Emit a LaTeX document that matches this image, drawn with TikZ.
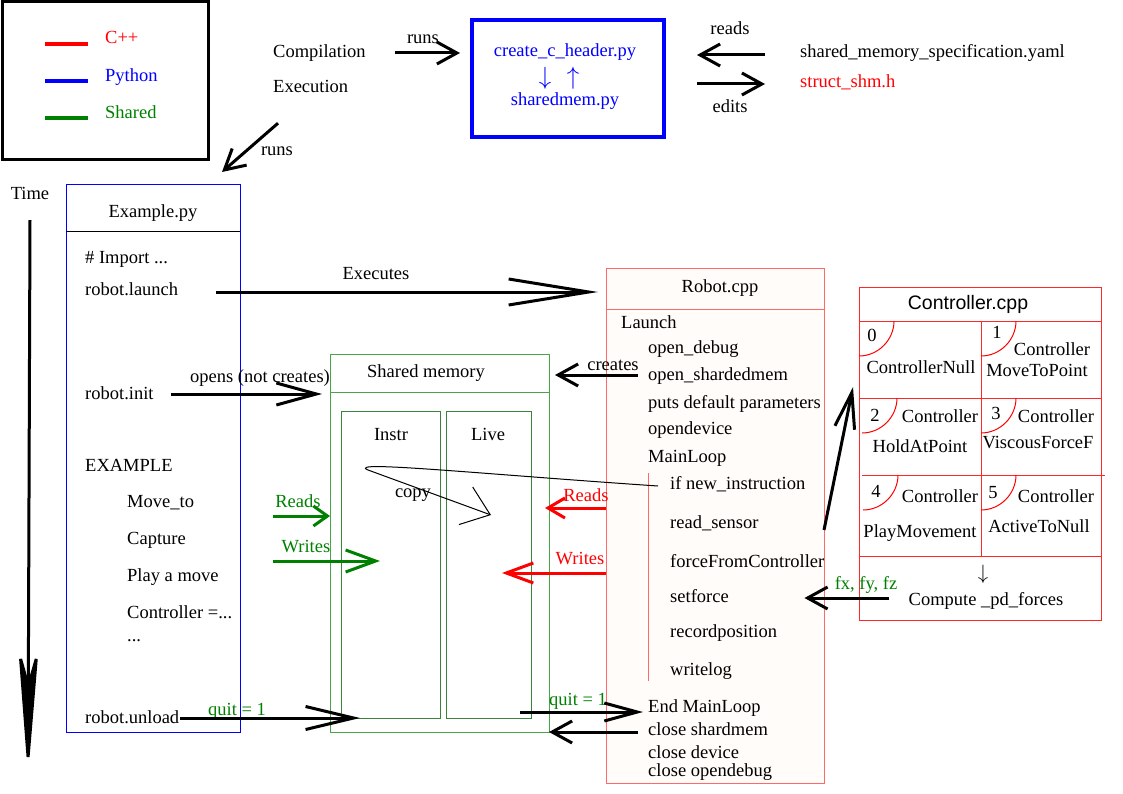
\documentclass[tikz,border=0pt]{standalone}
\usepackage{fontspec}
\setmainfont{Liberation Serif}
\newfontfamily\HeadFont{Liberation Sans}
\usepackage{xcolor}
\definecolor{ColCpp}{RGB}{255,0,0}
\definecolor{ColPy}{RGB}{0,0,255}
\definecolor{ColSh}{RGB}{0,128,0}
\definecolor{ColRobot}{RGB}{255,105,105}
\definecolor{ColCtl}{RGB}{255,40,40}
\definecolor{ColMem}{RGB}{70,165,70}
\definecolor{ColPaper}{RGB}{255,252,250}
\usepackage{tikz}
\usetikzlibrary{arrows.meta}
\tikzstyle{Txt}=[inner sep=0pt,text height=13pt,text depth=3pt,font=\fontsize{18.5}{22}\selectfont]
\tikzstyle{Item}=[Txt,anchor=west]
\tikzstyle{Sym}=[inner sep=0pt,font=\fontsize{25}{27}\selectfont]
\tikzstyle{Frame}=[draw,line width=1pt,inner sep=0pt,outer sep=0pt,anchor=north west]
\tikzstyle{Key}=[line width=3.5pt]
\tikzstyle{Arrow}=[line width=3pt,-{Straight Barb[length=20pt,width=22pt]}]
\tikzstyle{Thin}=[line width=1pt]
\newcommand{\CellArc}[2]{\draw[ColCpp,Thin] (#1,#2+35) .. controls (#1+19,#2+35) and (#1+35,#2+19) .. (#1+35,#2);}

\begin{document}
\begin{tikzpicture}[x=1pt,y=-1pt]
        \useasboundingbox (0,0) rectangle (1123,794);
        % legend
        \draw[line width=3pt] (2,2) rectangle (208,160);
        \draw[Key,ColCpp] (45,44) -- (88,44);
        \draw[Key,ColPy] (45,81) -- (88,81);
        \draw[Key,ColSh] (45,118) -- (88,118);
        \node[Item,ColCpp](kc)at(105,39){C++};
        \node[Item,ColPy](kp)at(105,77){Python};
        \node[Item,ColSh](ks)at(105,114){Shared};
        % header generation
        \node[Item](comp)at(273,53){Compilation};
        \node[Item](exec)at(273,88){Execution};
        \node[Frame,draw=ColPy,line width=4pt,minimum width=192pt,minimum height=117pt](gen)at(472,20){};
        \node[Txt,ColPy](hdr)at(565,52){create\_c\_header.py};
        \node[Sym,ColPy](dn)at(545,78){$\downarrow$};
        \node[Sym,ColPy](up)at(573,78){$\uparrow$};
        \node[Txt,ColPy](shm)at(565,101){sharedmem.py};
        \node[Item](spec)at(800,53){shared\_memory\_specification.yaml};
        \node[Item,ColCpp](struct)at(800,83){struct\_shm.h};
        \node[Txt](l1)at(423,39){runs};
        \node[Txt](l2)at(730,30){reads};
        \node[Txt](l3)at(730,108){edits};
        \node[Txt](l4)at(277,151){runs};
        \draw[Arrow]([xshift=29pt]comp.east)--([xshift=-12pt]comp.east -| gen.west);
        \draw[Arrow]([xshift=-35pt,yshift=-2pt]spec.west)--([xshift=33pt,yshift=-2pt]spec.west -| gen.east);
        \draw[Arrow]([xshift=33pt,yshift=-1pt]struct.west -| gen.east)--([xshift=-35pt,yshift=-1pt]struct.west);
        % Example.py
        \node[Txt](time)at(30,195){Time};
        \coordinate(tend)at(28,776);
        \draw[line width=3pt,-{Stealth[length=132pt,width=21pt,inset=37pt]}]([yshift=-17pt]time.south)--(tend);
        \node[Frame,draw=ColPy,minimum width=174pt,minimum height=547pt](ex)at(66,185){};
        \draw[Thin](66,232)--(240,232);
        \draw[Arrow]([shift={(5,27)}]exec.south west)--([shift={(-18,-13)}]ex.north east);
        \node[Txt](exh)at(153,213){Example.py};
        \node[Item](imp)at(85,258){\# Import ...};
        \node[Item](launch)at(85,290){robot.launch};
        \node[Item](init)at(85,394){robot.init};
        \node[Item](exa)at(85,466){EXAMPLE};
        \node[Item](mv)at(127,502){Move\_to};
        \node[Item](cap)at(127,539){Capture};
        \node[Item](play)at(127,576){Play a move};
        \node[Item](ctr)at(127,613){Controller =...};
        \node[Item](dots)at(127,636){...};
        \node[Item](unload)at(85,718){robot.unload};
        % Shared memory
        \node[Frame,draw=ColMem,minimum width=219pt,minimum height=378pt](mem)at(330,354){};
        \draw[Thin,ColMem](330,392)--(549,392);
        \node[Txt](memh)at(426,372){Shared memory};
        \node[Frame,draw=ColMem!80!black,minimum width=99pt,minimum height=307pt](instr)at(341,411){};
        \node[Frame,draw=ColMem!80!black,minimum width=85pt,minimum height=307pt](live)at(446,411){};
        \node[Txt](instrh)at(391,435){Instr};
        \node[Txt](liveh)at(488,435){Live};
        \node[Txt](copy)at(413,492){copy};
        % Robot.cpp
        \node[Frame,draw=ColRobot,fill=ColPaper,minimum width=218pt,minimum height=515pt](rob)at(606,268){};
        \draw[Thin,ColRobot](606,309)--(824,309);
        \draw[Thin,ColRobot](648,473)--(648,681);
        \node[Txt](robh)at(720,287){Robot.cpp};
        \node[Item](lau)at(621,323){Launch};
        \node[Item](odb)at(648,348){open\_debug};
        \node[Item](osm)at(648,375){open\_shardedmem};
        \node[Item](pdp)at(648,403){puts default parameters};
        \node[Item](odv)at(648,429){opendevice};
        \node[Item](ml)at(648,457){MainLoop};
        \node[Item](ifni)at(670,484){if new\_instruction};
        \node[Item](rs)at(670,523){read\_sensor};
        \node[Item](ffc)at(670,562){forceFromController};
        \node[Item](sf)at(670,597){setforce};
        \node[Item](rp)at(670,632){recordposition};
        \node[Item](wl)at(670,670){writelog};
        \node[Item](eml)at(648,707){End MainLoop};
        \node[Item](csm)at(648,730){close shardmem};
        \node[Item](cdv)at(648,753){close device};
        \node[Item](cod)at(648,771){close opendebug};
        % Controller.cpp
        \node[Frame,draw=ColCtl,minimum width=242pt,minimum height=333pt](ctl)at(859,287){};
        \draw[Thin,ColCtl](859,321)--(1101,321);
        \draw[Thin,ColCtl](981,321)--(981,556);
        \draw[Thin,ColCtl](859,398)--(1101,398);
        \draw[Thin,ColCtl](862,475)--(1105,475);
        \draw[Thin,ColCtl](859,556)--(1101,556);
        \CellArc{859}{321}
        \CellArc{981}{321}
        \CellArc{862}{398}
        \CellArc{981}{398}
        \CellArc{863}{475}
        \CellArc{981}{475}
        \node[Txt,font=\HeadFont\fontsize{19.5}{22}\selectfont](ctlh)at(968,304){Controller.cpp};
        \node[Txt](c0)at(872,336){0};
        \node[Txt](c0n)at(921,368){ControllerNull};
        \node[Txt](c1)at(997,333){1};
        \node[Txt](c1a)at(1052,350){Controller};
        \node[Txt](c1n)at(1037,371){MoveToPoint};
        \node[Txt](c2)at(875,416){2};
        \node[Txt](c2a)at(940,417){Controller};
        \node[Txt](c2n)at(920,447){HoldAtPoint};
        \node[Txt](c3)at(996,414){3};
        \node[Txt](c3a)at(1056,417){Controller};
        \node[Txt](c3n)at(1038,443){ViscousForceF};
        \node[Txt](c4)at(876,492){4};
        \node[Txt](c4a)at(940,497){Controller};
        \node[Txt](c4n)at(920,532){PlayMovement};
        \node[Txt](c5)at(993,493){5};
        \node[Txt](c5a)at(1056,497){Controller};
        \node[Txt](c5n)at(1039,527){ActiveToNull};
        \node[Sym,font=\fontsize{22}{24}\selectfont](down)at(983,574){$\downarrow$};
        \node[Txt](pdf)at(986,600){Compute \_pd\_forces};
        % labels of the connectors
        \node[Txt](lex)at(376,274){Executes};
        \node[Txt](lop)at(260,377){opens (not creates)};
        \node[Txt](lcr)at(613,365){creates};
        \node[Txt,ColSh](lgr)at(298,502){Reads};
        \node[Txt,ColSh](lgw)at(306,547){Writes};
        \node[Txt,ColCpp](lrr)at(586,496){Reads};
        \node[Txt,ColCpp](lrw)at(580,559){Writes};
        \node[Txt,ColSh](lq1)at(237,710){quit = 1};
        \node[Txt,ColSh](lq2)at(578,700){quit = 1};
        \node[Txt,ColSh](lfx)at(866,584){fx, fy, fz};
        % connectors
        \coordinate(gr0)at(273,516);
        \coordinate(gw0)at(273,561);
        \coordinate(gw1)at(380,561);
        \coordinate(rr1)at(545,508);
        \coordinate(rw1)at(502,573);
        \coordinate(cp0)at(368,470);
        \coordinate(cp1)at(491,515);
        \coordinate(rc0)at(824,530);
        \coordinate(rc1)at(853,387);
        \draw[Arrow,-{Straight Barb[length=80pt,width=26pt]}]([xshift=38pt,yshift=-2pt]launch.east)--([xshift=-8pt,yshift=-2pt]launch.east -| rob.west);
        \draw[Arrow,-{Straight Barb[length=40pt,width=22pt]}]([xshift=17pt]init.east)--([xshift=-8pt]init.east -| mem.west);
        \draw[Arrow]([xshift=-10pt]osm.west)--([xshift=6pt]osm.west -| mem.east);
        \draw[Arrow,ColSh,-{Straight Barb[length=14pt,width=20pt]}](gr0)--(gr0 -| mem.west);
        \draw[Arrow,ColSh,-{Straight Barb[length=30pt,width=22pt]}](gw0)--(gw1);
        \draw[Arrow,ColCpp,-{Straight Barb[length=17pt,width=20pt]}](rob.west |- rr1)--(rr1);
        \draw[Arrow,ColCpp,-{Straight Barb[length=27pt,width=20pt]}](rob.west |- rw1)--(rw1);
        \draw[Arrow,-{Straight Barb[length=48pt,width=23pt]}]([xshift=1pt]unload.east)--([xshift=19pt]unload.east -| instr.west);
        \draw[Arrow,-{Straight Barb[length=33pt,width=18pt]}]([xshift=-11pt,yshift=-5pt]eml.west -| live.east)--([xshift=-5pt,yshift=-5pt]eml.west);
        \draw[Arrow]([xshift=-10pt,yshift=-2pt]csm.west)--([yshift=-2pt]csm.west -| mem.east);
        \draw[Arrow]([xshift=-19pt,yshift=2pt]pdf.west)--([xshift=-104pt,yshift=2pt]pdf.west);
        \draw[Arrow,-{Straight Barb[length=36pt,width=20pt]}](rc0)--(rc1);
        \draw[Thin,-{Straight Barb[length=26pt,width=40pt]}]([xshift=-12pt,yshift=-2pt]ifni.west)..controls(480,474)and(345,460)..(cp0)--(cp1);
\end{tikzpicture}
\end{document}
